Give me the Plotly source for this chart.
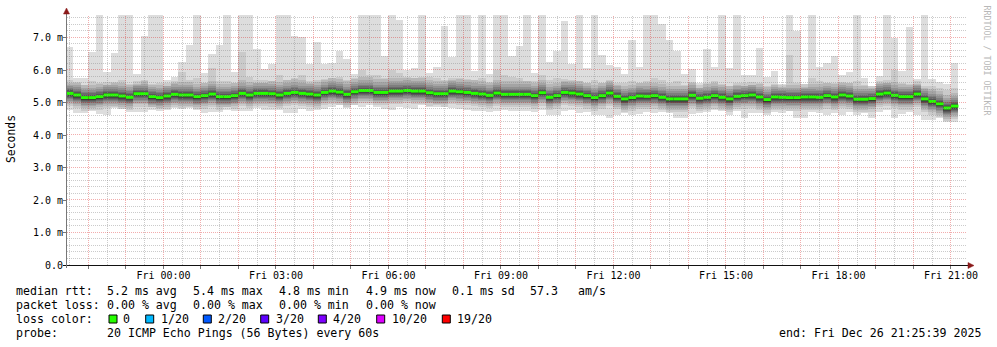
import numpy as np
import pandas as pd
import plotly.graph_objects as go

# ---------------- data (ms) ----------------
median_ms = [5.28, 5.23, 5.15, 5.15, 5.18, 5.23, 5.23, 5.20, 5.16, 5.27, 5.27, 5.18, 5.15, 5.20, 5.25, 5.23, 5.23, 5.18, 5.21, 5.26,
             5.18, 5.18, 5.21, 5.28, 5.23, 5.28, 5.28, 5.27, 5.23, 5.28, 5.31, 5.28, 5.26, 5.23, 5.31, 5.35, 5.32, 5.25, 5.33, 5.37, 5.37,
             5.31, 5.31, 5.35, 5.35, 5.37, 5.35, 5.35, 5.30, 5.27, 5.27, 5.35, 5.33, 5.31, 5.28, 5.26, 5.22, 5.29, 5.25, 5.25, 5.25,
             5.25, 5.21, 5.30, 5.16, 5.21, 5.31, 5.29, 5.26, 5.21, 5.15, 5.21, 5.29, 5.19, 5.11, 5.15, 5.20, 5.19, 5.21, 5.16, 5.11, 5.11,
             5.11, 5.22, 5.13, 5.16, 5.21, 5.16, 5.11, 5.19, 5.21, 5.23, 5.17, 5.09, 5.17, 5.16, 5.15, 5.15, 5.17, 5.17, 5.16, 5.21, 5.17, 5.23,
             5.20, 5.10, 5.10, 5.12, 5.26, 5.29, 5.22, 5.18, 5.18, 5.26, 5.11, 5.03, 4.96, 4.83, 4.89]

max_ms = [6.72, 5.74, 5.76, 6.56, 7.69, 5.95, 6.51, 7.69, 7.69, 5.88, 7.05, 7.69, 7.69, 5.69, 5.79, 5.95, 6.77, 7.69, 5.90, 6.48,
          6.77, 7.69, 5.95, 7.69, 7.69, 6.65, 6.02, 6.18, 7.69, 7.69, 7.06, 7.03, 6.20, 6.85, 6.18, 6.23, 6.58, 6.34, 5.88, 7.69, 7.69,
          7.69, 6.43, 7.69, 7.54, 6.00, 6.05, 7.69, 5.90, 6.10, 7.35, 6.41, 7.69, 7.69, 5.98, 7.69, 5.88, 7.69, 7.69, 6.43, 6.74,
          7.69, 5.90, 7.69, 6.26, 6.58, 7.50, 6.20, 7.69, 6.05, 7.69, 6.46, 6.15, 6.10, 5.88, 6.92, 6.10, 7.69, 7.69, 7.42, 6.92, 6.58,
          5.88, 6.03, 5.61, 6.65, 6.08, 7.69, 6.05, 7.69, 5.85, 5.85, 6.69, 5.79, 5.97, 5.54, 7.69, 7.21, 5.57, 7.69, 6.10, 6.23, 6.43, 5.85,
          5.95, 7.69, 5.76, 5.50, 5.83, 7.69, 7.00, 5.98, 7.33, 5.72, 7.69, 5.72, 5.64, 5.57, 6.23]

min_ms = [4.77, 4.67, 4.67, 4.77, 4.64, 4.62, 4.85, 4.79, 4.70, 4.70, 4.70, 4.87, 4.79, 4.77, 4.84, 4.79, 4.87, 4.79, 4.67, 4.70,
          4.70, 4.87, 4.74, 4.74, 4.74, 4.82, 4.77, 4.77, 4.77, 4.67, 4.67, 4.80, 4.74, 4.77, 4.80, 4.87, 4.92, 4.84, 4.92, 4.87, 4.92,
          4.87, 4.80, 4.77, 4.87, 4.82, 4.80, 4.92, 4.87, 4.92, 4.87, 4.82, 4.80, 4.77, 4.74, 4.74, 4.72, 4.74, 4.77, 4.74, 4.74,
          4.74, 4.72, 4.77, 4.62, 4.62, 4.74, 4.77, 4.67, 4.70, 4.62, 4.62, 4.53, 4.62, 4.67, 4.62, 4.64, 4.70, 4.67, 4.70, 4.67, 4.51,
          4.51, 4.64, 4.67, 4.72, 4.77, 4.74, 4.62, 4.74, 4.53, 4.67, 4.67, 4.62, 4.72, 4.67, 4.74, 4.51, 4.53, 4.72, 4.67, 4.62, 4.67, 4.62,
          4.70, 4.62, 4.67, 4.53, 4.70, 4.77, 4.53, 4.64, 4.70, 4.62, 4.46, 4.46, 4.51, 4.41, 4.41]

upper2_ms = [5.55, 5.60, 5.55, 5.65, 5.60, 5.55, 5.60, 5.70, 5.55, 5.55, 5.70, 5.55, 5.60, 5.50, 5.60, 6.25, 5.70, 5.75, 5.60, 6.05,
             5.65, 5.65, 5.60, 6.55, 5.80, 5.60, 5.60, 5.65, 5.85, 5.70, 5.75, 5.85, 5.60, 5.70, 5.70, 5.75, 5.80, 5.70, 5.75, 6.00, 5.85,
             5.85, 5.75, 6.00, 5.90, 5.75, 5.75, 5.80, 5.80, 5.75, 5.70, 5.70, 5.75, 5.70, 5.70, 5.75, 5.60, 6.00, 5.85, 5.80, 5.75,
             5.65, 5.65, 5.85, 5.70, 5.75, 5.65, 5.65, 5.65, 5.60, 5.70, 5.60, 5.65, 5.55, 5.60, 5.65, 5.60, 5.65, 5.75, 5.70, 5.60, 5.65,
             5.55, 5.60, 5.45, 5.60, 5.65, 5.55, 5.50, 5.55, 5.50, 5.55, 5.60, 5.50, 5.55, 5.45, 6.45, 5.60, 5.45, 5.75, 5.65, 5.60, 5.60, 5.60,
             5.60, 5.65, 5.55, 5.45, 5.60, 5.60, 6.00, 5.60, 5.55, 5.55, 5.45, 5.50, 5.45, 5.40, 5.45]

# typical spread of pings 2..18 around the median (ms)
core_offsets_ms = [-0.40, -0.33, -0.27, -0.22, -0.18, -0.14, -0.11, -0.08, -0.06,
                   0.02, 0.05, 0.09, 0.13, 0.18, 0.24, 0.31, 0.40]

y_tick_vals = [0, 1, 2, 3, 4, 5, 6, 7]
y_tick_text = ["0.0", "1.0 m", "2.0 m", "3.0 m", "4.0 m", "5.0 m", "6.0 m", "7.0 m"]
x_tick_text = ["Fri 00:00", "Fri 03:00", "Fri 06:00", "Fri 09:00", "Fri 12:00", "Fri 15:00", "Fri 18:00", "Fri 21:00"]

loss_labels = ["0", "1/20", "2/20", "3/20", "4/20", "10/20", "19/20"]
loss_colors = ["#26ff00", "#00b8ff", "#0059ff", "#5e00ff", "#7e00ff", "#dd00ff", "#ff0000"]

stats_rtt = ["5.2 ms avg", "5.4 ms max", "4.8 ms min", "4.9 ms now", "0.1 ms sd", "57.3", "am/s"]
stats_loss = ["0.00 % avg", "0.00 % max", "0.00 % min", "0.00 % now"]
probe_text = "20 ICMP Echo Pings (56 Bytes) every 60s"
end_text = "end: Fri Dec 26 21:25:39 2025"

# ---------------- geometry helpers ----------------
L, R, T, B = 67, 967, 15, 265
W, H = 997, 347
Y_TOP = 7.6923


def px(xp):
    return (xp - L) / (R - L)


def py(yp):
    return (B - yp) / (B - T)


def snap(p):
    return np.floor(p) + 0.5


x_start = pd.Timestamp("2025-12-25 21:25:39")
x_end = pd.Timestamp("2025-12-26 21:25:39")
span = (x_end - x_start).total_seconds()
step = pd.Timedelta(minutes=12)
n = len(median_ms)
bar_start = pd.Timestamp("2025-12-25 21:24:00") + step * np.arange(n)
centers = bar_start + step / 2

med = np.array(median_ms)
pings = np.zeros((n, 20))
pings[:, 0] = min_ms
for j, off in enumerate(core_offsets_ms):
    pings[:, j + 1] = med + off
pings[:, 18] = upper2_ms
pings[:, 19] = max_ms
pings = np.sort(pings, axis=1)

fig = go.Figure()
half = 10
for i in range(1, half + 1):
    lo = pings[:, i - 1]
    hi = pings[:, 20 - i]
    c = int(190 / half * (half - i)) + 50
    col = "#%02x%02x%02x" % (c, c, c)
    fig.add_trace(go.Bar(x=centers, y=hi - lo, base=lo, width=step.total_seconds() * 1000,
                         marker=dict(color=col, line=dict(width=0)), hoverinfo="skip"))

# median band
mx, my = [], []
for k in range(n):
    mx += [bar_start[k], bar_start[k] + step, None]
    my += [median_ms[k], median_ms[k], None]
fig.add_trace(go.Scatter(x=mx, y=my, mode="lines", line=dict(color=loss_colors[0], width=3),
                         hoverinfo="skip"))

hour_ticks = pd.date_range("2025-12-25 22:00", "2025-12-26 21:00", freq="1h")
half_hours = pd.date_range("2025-12-25 21:30", "2025-12-26 21:00", freq="1h")
hour_text = []
lab_iter = iter(x_tick_text)
for t in hour_ticks:
    hour_text.append(next(lab_iter) if t.hour % 3 == 0 and t.day == 26 else "")

MAJ = "rgba(215,0,0,0.32)"
MIN = "rgba(140,140,140,0.45)"
MONO = "DejaVu Sans Mono"

fig.update_layout(
    width=W, height=H,
    margin=dict(l=L, r=W - R, t=T, b=H - B, pad=0),
    paper_bgcolor="white", plot_bgcolor="white",
    barmode="overlay", bargap=0, showlegend=False,
    font=dict(family=MONO, size=10, color="#000"),
    xaxis=dict(type="date", range=[x_start, x_end], tickmode="array", tickvals=hour_ticks, ticktext=hour_text,
               showgrid=False, ticks="outside", ticklen=3, tickcolor="#777", ticklabelstandoff=-2,
               tickfont=dict(family=MONO, size=10, color="#000"),
               showline=False, zeroline=False, fixedrange=True),
    yaxis=dict(range=[0, Y_TOP], tickmode="array", tickvals=y_tick_vals, ticktext=y_tick_text,
               showgrid=False, ticks="outside", ticklen=3, tickcolor="#777", ticklabelstandoff=-2,
               tickfont=dict(family=MONO, size=10, color="#000"),
               showline=False, zeroline=False, fixedrange=True),
)

shapes = []


def t2px(t):
    return L + (t - x_start).total_seconds() / span * (R - L)


def v2py(v):
    return B - v / Y_TOP * (B - T)


# grid (crisp dotted lines, drawn above the smoke like rrdtool)
for t in half_hours:
    xp = snap(t2px(t))
    shapes.append(dict(type="line", xref="paper", yref="paper", x0=px(xp), x1=px(xp), y0=0, y1=1,
                       layer="above", line=dict(color=MIN, width=1, dash="1px,1px")))
for t in hour_ticks:
    xp = snap(t2px(t))
    shapes.append(dict(type="line", xref="paper", yref="paper", x0=px(xp), x1=px(xp), y0=0, y1=1,
                       layer="above", line=dict(color=MAJ, width=1, dash="1px,1px")))
for k in range(1, 39):
    v = k * 0.2
    if v > Y_TOP:
        break
    yp = snap(v2py(v))
    is_major = abs(v - round(v)) < 1e-6
    shapes.append(dict(type="line", xref="paper", yref="paper", x0=0, x1=1, y0=py(yp), y1=py(yp),
                       layer="above",
                       line=dict(color=MAJ if is_major else MIN, width=1, dash="1px,1px")))

# axis lines
shapes.append(dict(type="line", xref="paper", yref="paper", x0=px(63), y0=py(265.5), x1=px(969), y1=py(265.5),
                   line=dict(color="#111", width=1)))
shapes.append(dict(type="line", xref="paper", yref="paper", x0=px(66.5), y0=py(268), x1=px(66.5), y1=py(13),
                   line=dict(color="#777", width=1)))
# arrows
ARROW = "#8b1a1a"
shapes.append(dict(type="path", xref="paper", yref="paper",
                   path="M %f,%f L %f,%f L %f,%f Z" % (px(968), py(262.5), px(974), py(265.5), px(968), py(268.5)),
                   fillcolor=ARROW, line=dict(color=ARROW, width=0.5)))
shapes.append(dict(type="path", xref="paper", yref="paper",
                   path="M %f,%f L %f,%f L %f,%f Z" % (px(63.5), py(14), px(66.5), py(8), px(69.5), py(14)),
                   fillcolor=ARROW, line=dict(color=ARROW, width=0.5)))

annotations = []


def txt(x, y, s, size=11.6, anchor="left", color="#000", angle=0):
    annotations.append(dict(x=px(x), y=py(y), xref="paper", yref="paper", text=s, showarrow=False,
                            xanchor=anchor, yanchor="middle", textangle=angle, borderpad=0, borderwidth=0,
                            font=dict(family=MONO, size=size, color=color)))


txt(11, 139, "Seconds", size=11.4, anchor="center", angle=-90)
txt(986.5, 60, "RRDTOOL / TOBI OETIKER", size=8.3, anchor="center", color="#b8b8b8", angle=90)

row_y = [291, 305, 319, 333]
col_x = [107.3, 193.3, 279.0, 365.7, 451.7, 530.0, 578.0]
txt(16, row_y[0], "median rtt:")
for s, x in zip(stats_rtt, col_x):
    txt(x, row_y[0], s)
txt(16, row_y[1], "packet loss:")
for s, x in zip(stats_loss, col_x):
    txt(x, row_y[1], s)
txt(16, row_y[2], "loss color:")
box_x = [109.0, 145.7, 203.3, 260.7, 318.3, 376.7, 442.3]
lab_x = [123.3, 160.7, 218.3, 276.0, 333.3, 391.7, 456.7]
for lab, colr, bx, lx in zip(loss_labels, loss_colors, box_x, lab_x):
    shapes.append(dict(type="rect", xref="paper", yref="paper", x0=px(bx), x1=px(bx + 8),
                       y0=py(row_y[2] + 4), y1=py(row_y[2] - 4), fillcolor=colr,
                       line=dict(color="#000", width=1)))
    txt(lx, row_y[2], lab)
txt(16, row_y[3], "probe:")
txt(107.3, row_y[3], probe_text)
txt(981, row_y[3], end_text, anchor="right")

fig.update_layout(shapes=shapes, annotations=annotations)
fig.write_html("out.html")
